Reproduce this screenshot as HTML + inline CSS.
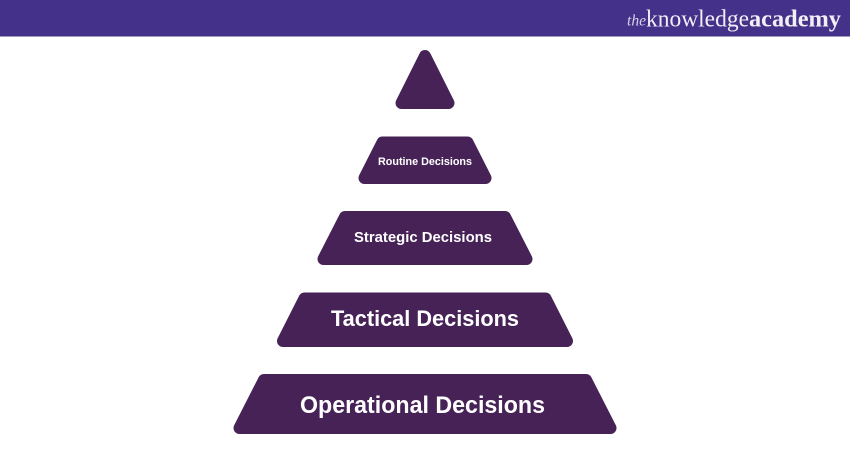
<!DOCTYPE html>
<html>
<head>
<meta charset="utf-8">
<style>
html,body{margin:0;padding:0;background:#fff;width:850px;height:450px;overflow:hidden}
svg{display:block}
.l{font-family:"Liberation Sans",sans-serif;font-weight:bold;fill:#fff;text-anchor:start}
.s{font-family:"Liberation Serif",serif;fill:#f1eef6}
</style>
</head>
<body>
<svg width="850" height="450" viewBox="0 0 850 450" xmlns="http://www.w3.org/2000/svg">
<rect x="0" y="0" width="850" height="36.500" fill="#43318a"/>
<text class="s" x="627" y="25.500" font-size="16" font-style="italic" fill-opacity="0.85" textLength="19" lengthAdjust="spacingAndGlyphs">the</text>
<text class="s" x="646" y="26.500" font-size="24" textLength="103" lengthAdjust="spacingAndGlyphs">knowledge</text>
<text class="s" x="749" y="26.500" font-size="24" font-weight="bold" textLength="92" lengthAdjust="spacingAndGlyphs">academy</text>
<g fill="#472257" stroke="#472257" stroke-linejoin="round" stroke-width="12">
<polygon points="425,56 448.500,103 401.500,103"/>
<polygon points="382.500,142.500 467.500,142.500 485.500,178 364.500,178"/>
<polygon points="345,217 505,217 526.500,259 323.500,259"/>
<polygon points="304.500,298.500 545.500,298.500 567,341 283,341"/>
<polygon points="264,380 586,380 610.500,428 239.500,428"/>
</g>
<text class="l" x="378" y="165" font-size="11" textLength="94" lengthAdjust="spacingAndGlyphs">Routine Decisions</text>
<text class="l" x="354" y="242" font-size="14.500" textLength="138" lengthAdjust="spacingAndGlyphs">Strategic Decisions</text>
<text class="l" x="331" y="326" font-size="22" textLength="188" lengthAdjust="spacingAndGlyphs">Tactical Decisions</text>
<text class="l" x="300" y="413" font-size="24.500" textLength="245" lengthAdjust="spacingAndGlyphs">Operational Decisions</text>
</svg>
</body>
</html>
